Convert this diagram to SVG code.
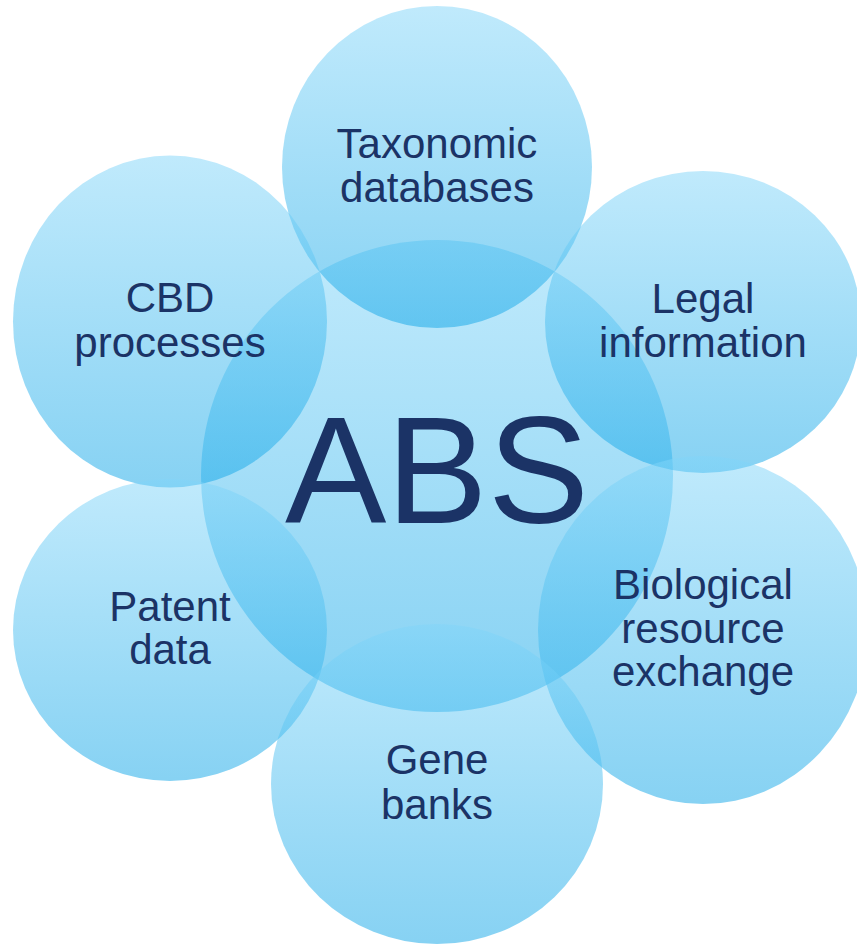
<svg xmlns="http://www.w3.org/2000/svg" width="857" height="944" viewBox="0 0 857 944">
<defs>
<linearGradient id="g" x1="0" y1="0" x2="0" y2="1">
<stop offset="0" stop-color="#81D5F9"/>
<stop offset="1" stop-color="#0FA5E7"/>
</linearGradient>
</defs>
<style>
.c{fill:url(#g);fill-opacity:0.5}
.t{font-family:"Liberation Sans",Arial,sans-serif;font-size:42px;fill:#1B3366;text-anchor:middle}
.big{font-family:"Liberation Sans",Arial,sans-serif;font-size:152px;fill:#1B3366;text-anchor:middle}
</style>
<rect width="857" height="944" fill="#FFFFFF"/>
<g id="abs">
<ellipse class="c" cx="437" cy="476" rx="236" ry="236"/>
</g>
<g id="taxonomic">
<ellipse class="c" cx="437" cy="167" rx="155" ry="161"/>
<text class="t" x="437" y="158">Taxonomic</text>
<text class="t" x="437" y="202">databases</text>
</g>
<g id="cbd">
<ellipse class="c" cx="170" cy="321.5" rx="157" ry="166"/>
<text class="t" x="170" y="312">CBD</text>
<text class="t" x="170" y="356.5">processes</text>
</g>
<g id="legal">
<ellipse class="c" cx="703" cy="322" rx="158" ry="151"/>
<text class="t" x="703" y="313">Legal</text>
<text class="t" x="703" y="357">information</text>
</g>
<g id="patent">
<ellipse class="c" cx="170" cy="630" rx="157" ry="151"/>
<text class="t" x="170" y="620.5">Patent</text>
<text class="t" x="170" y="664">data</text>
</g>
<g id="biological">
<ellipse class="c" cx="703" cy="630" rx="165" ry="174"/>
<text class="t" x="703" y="599">Biological</text>
<text class="t" x="703" y="642.5">resource</text>
<text class="t" x="703" y="686">exchange</text>
</g>
<g id="gene">
<ellipse class="c" cx="437" cy="784" rx="166" ry="160"/>
<text class="t" x="437" y="774">Gene</text>
<text class="t" x="437" y="819">banks</text>
</g>
<g id="abs-label">
<text class="big" x="437" y="522.5">ABS</text>
</g>
</svg>
